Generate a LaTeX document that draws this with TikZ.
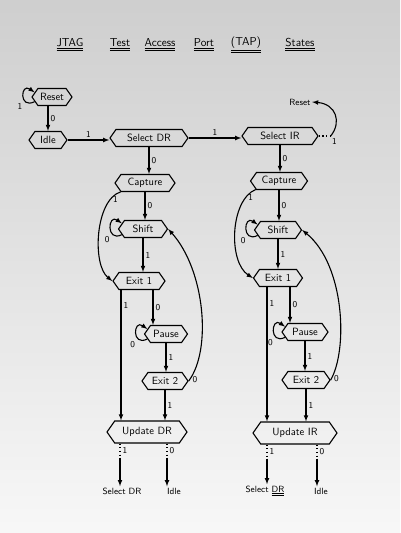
\documentclass[tikz,border=0pt]{standalone}
\usetikzlibrary{shapes.symbols, calc}
\newcommand{\dblul}[1]{\underline{\underline{#1}}}
\begin{document}
\begin{tikzpicture}[x=1pt, y=-1pt, >=latex, line width=1.1pt]
	\tikzstyle{state}=[signal, signal to=west and east, signal pointer angle=110, draw, font=\sffamily\fontsize{10.5}{12}\selectfont, inner sep=2pt, minimum height=17pt]
	\tikzstyle{bit}=[font=\sffamily\small, inner sep=2pt]
	\tikzstyle{target}=[font=\sffamily\small, inner sep=1pt]
	\tikzstyle{word}=[font=\sffamily\fontsize{11.5}{13}\selectfont, inner sep=0pt]
	\tikzstyle{dots}=[dash pattern=on 1.2pt off 2.5pt]

	% paper
	\shade[top color=gray!38, bottom color=gray!6] (0,0) rectangle (400,533);
	\useasboundingbox (0,0) rectangle (400,533);

	% title
	\node[word] (wJTAG) at (70,45) {\dblul{JTAG}};
	\node[word] (wTest) at (120,45) {\dblul{Test}};
	\node[word] (wAccess) at (160,45) {\dblul{Access}};
	\node[word] (wPort) at (204,45) {\dblul{Port}};
	\node[word] (wTAP) at (246,45) {\dblul{(TAP)}};
	\node[word] (wStates) at (300,45) {\dblul{States}};

	% top row
	\node[state, minimum width=40pt] (reset) at (52,97) {Reset};
	\node[state, minimum width=38pt] (idle) at (48,140) {Idle};
	\node[state, minimum width=78pt] (selectDR) at (149,138) {Select DR};
	\node[state, minimum width=76pt] (selectIR) at (280,136) {Select IR};
	\node[target] (resetTarget) at (300,102) {Reset};

	% DR column
	\node[state, minimum width=60pt] (captureDR) at (145,183) {Capture};
	\node[state, minimum width=49pt] (shiftDR) at (143,229) {Shift};
	\node[state, minimum width=52pt] (exitoneDR) at (139,281) {Exit 1};
	\node[state, minimum width=43pt] (pauseDR) at (166,334) {Pause};
	\node[state, minimum width=46pt] (exittwoDR) at (165,381) {Exit 2};
	\node[state, minimum width=80pt, minimum height=22pt] (updateDR) at (147,432) {Update DR};
	\node[target] (selDRfromDR) at (122,491) {Select DR};
	\node[target] (idleFromDR) at (174,491) {Idle};

	% IR column
	\node[state, minimum width=57pt] (captureIR) at (279,181) {Capture};
	\node[state, minimum width=47pt] (shiftIR) at (278,230) {Shift};
	\node[state, minimum width=49pt] (exitoneIR) at (278,278) {Exit 1};
	\node[state, minimum width=46pt] (pauseIR) at (305,332) {Pause};
	\node[state, minimum width=48pt] (exittwoIR) at (306,380) {Exit 2};
	\node[state, minimum width=84pt, minimum height=22pt] (updateIR) at (295,433) {Update IR};
	\node[target] (selDRfromIR) at (265,491) {Select \dblul{DR}};
	\node[target] (idleFromIR) at (321,491) {Idle};

	% top row transitions
	\draw[->] (reset.195) .. controls +(-16,8) and +(-14,-10) .. node[bit, pos=0.3, below left] {1} (reset.165);
	\draw[->] (idle |- reset.south) -- node[bit, right] {0} (idle.north);
	\draw[->] (idle.east) -- node[bit, above] {1} (idle.east -| selectDR.west);
	\draw[->] (selectDR.east) -- node[bit, above] {1} (selectDR.east -| selectIR.west);
	\draw[dots] (selectIR.east) -- node[bit, below right, pos=0.9] {1} ++(12,0) coordinate (backToReset);
	\draw[->] (backToReset) .. controls (342,122) and (336,104) .. (resetTarget.east);

	% DR transitions
	\draw[->] (selectDR.south) -- node[bit, right] {0} (selectDR.south |- captureDR.north);
	\draw[->] (captureDR.south) -- node[bit, right] {0} (captureDR.south |- shiftDR.north);
	\draw[->] (captureDR.200) .. controls (95,200) and (92,265) .. node[bit, pos=0.15, right] {1} (exitoneDR.west);
	\draw[->] (shiftDR.195) .. controls +(-16,8) and +(-14,-10) .. node[bit, pos=0.3, below left] {0} (shiftDR.165);
	\draw[->] (shiftDR.south) -- node[bit, right] {1} (shiftDR.south |- exitoneDR.north);
	\draw[->] ([xshift=-18pt]exitoneDR.south) -- node[bit, right, pos=0.12] {1} ([xshift=-18pt]exitoneDR.south |- updateDR.north);
	\draw[->] ([xshift=14pt]exitoneDR.south) -- node[bit, right] {0} ([xshift=14pt]exitoneDR.south |- pauseDR.north);
	\draw[->] (pauseDR.195) .. controls +(-16,8) and +(-14,-10) .. node[bit, pos=0.3, below left] {0} (pauseDR.165);
	\draw[->] (pauseDR.south) -- node[bit, right] {1} (pauseDR.south |- exittwoDR.north);
	\draw[->] (exittwoDR.east) .. controls (212,350) and (205,270) .. node[bit, pos=0.02, right] {0} (shiftDR.east);
	\draw[->] (exittwoDR.south) -- node[bit, right] {1} (exittwoDR.south |- updateDR.north);
	\draw[dots] ([xshift=-27pt]updateDR.south) -- node[bit, right] {1} ++(0,14) coordinate (oneDR);
	\draw[->] (oneDR) -- (oneDR |- selDRfromDR.north);
	\draw[dots] ([xshift=20pt]updateDR.south) -- node[bit, right] {0} ++(0,14) coordinate (zeroDR);
	\draw[->] (zeroDR) -- (zeroDR |- idleFromDR.north);

	% IR transitions
	\draw[->] (selectIR.south) -- node[bit, right] {0} (selectIR.south |- captureIR.north);
	\draw[->] (captureIR.south) -- node[bit, right] {0} (captureIR.south |- shiftIR.north);
	\draw[->] (captureIR.200) .. controls (230,200) and (228,262) .. node[bit, pos=0.15, right] {1} (exitoneIR.west);
	\draw[->] (shiftIR.195) .. controls +(-16,8) and +(-14,-10) .. node[bit, pos=0.3, below left] {0} (shiftIR.165);
	\draw[->] (shiftIR.south) -- node[bit, right] {1} (shiftIR.south |- exitoneIR.north);
	\draw[->] ([xshift=-11pt]exitoneIR.south) -- node[bit, right, pos=0.12] {1} ([xshift=-11pt]exitoneIR.south |- updateIR.north);
	\draw[->] ([xshift=12pt]exitoneIR.south) -- node[bit, right] {0} ([xshift=12pt]exitoneIR.south |- pauseIR.north);
	\draw[->] (pauseIR.195) .. controls +(-16,8) and +(-14,-10) .. node[bit, pos=0.3, below left] {0} (pauseIR.165);
	\draw[->] (pauseIR.south) -- node[bit, right] {1} (pauseIR.south |- exittwoIR.north);
	\draw[->] (exittwoIR.east) .. controls (348,350) and (345,265) .. node[bit, pos=0.02, right] {0} (shiftIR.east);
	\draw[->] (exittwoIR.south) -- node[bit, right] {1} (exittwoIR.south |- updateIR.north);
	\draw[dots] ([xshift=-28pt]updateIR.south) -- node[bit, right] {1} ++(0,14) coordinate (oneIR);
	\draw[->] (oneIR) -- (oneIR |- selDRfromIR.north);
	\draw[dots] ([xshift=22pt]updateIR.south) -- node[bit, right] {0} ++(0,14) coordinate (zeroIR);
	\draw[->] (zeroIR) -- (zeroIR |- idleFromIR.north);
\end{tikzpicture}
\end{document}
